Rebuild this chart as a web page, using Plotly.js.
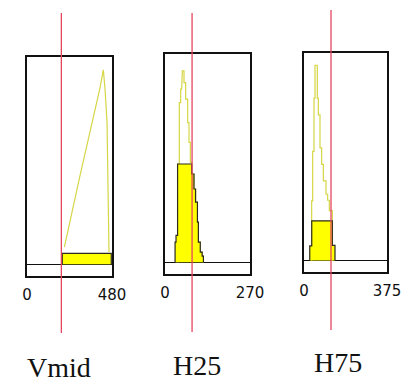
<!DOCTYPE html>
<html><head><meta charset="utf-8">
<script src="https://cdn.plot.ly/plotly-3.0.1.min.js"></script>
<style>html,body{margin:0;padding:0;background:#fff}#plot{width:404px;height:383px}</style>
</head><body><div id="plot"></div>
<script>
// ---- data ----
var categories = ['Vmid', 'H25', 'H75'];
var axisMax = [480, 270, 375];
var tickLabels = [['0', '480'], ['0', '270'], ['0', '375']];
var cutoffs = [194, 86, 122];

// filled histograms: bin edges and heights (percent of panel height)
var vmidFillEdges = [199, 476];
var vmidFillHeights = [5.3];
var h25FillEdges = [32, 35, 40, 85, 92, 97, 103, 106, 112, 118, 122];
var h25FillHeights = [9.7, 12.9, 47.2, 42.4, 35.2, 28.9, 19.3, 9.7, 4.9, 3.0];
var h75FillEdges = [26, 35, 128, 140];
var h75FillHeights = [7.0, 19.1, 7.2];

// outline histograms
var vmidLineX = [211, 252, 299, 346, 384, 412, 431, 441, 452, 459, 463];
var vmidLineY = [8.3, 25.0, 42.6, 60.1, 73.7, 84.8, 93.6, 84.0, 68.1, 36.2, 5.9];
var h25LineEdges = [40, 45.5, 49.8, 52.9, 55.1, 60.4, 65.6, 72, 76.2, 80.5, 84.7, 92.1, 97.4, 102.7, 105.9, 112.2, 118.6, 121.8];
var h25LineHeights = [47.2, 76.7, 83.1, 87.9, 91.9, 86.3, 78.3, 67.1, 57.6, 48.0, 42.4, 35.2, 28.9, 19.3, 9.7, 4.9, 3.0];
var h75LineEdges = [34.6, 39.2, 45.2, 49.7, 60.2, 64.8, 72.3, 79.8, 87.4, 99.4, 106.9, 114.5, 128];
var h75LineHeights = [28.7, 52.6, 78.2, 94.1, 78.2, 70.2, 54.3, 46.3, 38.3, 31.9, 29.0, 24.0];

function steps(edges, heights) {
  var x = [edges[0]], y = [0];
  for (var i = 0; i < heights.length; i++) {
    x.push(edges[i], edges[i + 1]);
    y.push(heights[i], heights[i]);
  }
  x.push(edges[edges.length - 1]); y.push(0);
  return {x: x, y: y};
}

var lineColor = 'rgb(214,214,70)';
var fillColor = '#ffff00';
var edgeColor = '#2a2a20';

var fills = [steps(vmidFillEdges, vmidFillHeights), steps(h25FillEdges, h25FillHeights), steps(h75FillEdges, h75FillHeights)];
var lines = [{x: vmidLineX, y: vmidLineY}, steps(h25LineEdges, h25LineHeights), steps(h75LineEdges, h75LineHeights)];

var traces = [];
for (var p = 0; p < 3; p++) {
  var xa = p === 0 ? 'x' : 'x' + (p + 1);
  var ya = p === 0 ? 'y' : 'y' + (p + 1);
  traces.push({type: 'scatter', mode: 'lines', x: lines[p].x, y: lines[p].y, xaxis: xa, yaxis: ya,
    line: {color: lineColor, width: 1.2}, hoverinfo: 'skip', showlegend: false});
  traces.push({type: 'scatter', mode: 'lines', x: fills[p].x, y: fills[p].y, xaxis: xa, yaxis: ya,
    fill: 'toself', fillcolor: fillColor, line: {color: edgeColor, width: 1.2}, hoverinfo: 'skip', showlegend: false});
}

var xDomains = [[27/404, 112/404], [165/404, 250/404], [304/404, 387/404]];
var yDomains = [[1 - 276/383, 1 - 56.5/383], [1 - 274/383, 1 - 54/383], [1 - 272/383, 1 - 53/383]];
var redSpan = [[1 - 333/383, 1 - 13/383], [1 - 332/383, 1 - 13/383], [1 - 330/383, 1 - 10/383]];
var labelPos = [[59/404, 1 - 367/383], [197/404, 1 - 365/383], [338/404, 1 - 362/383]];

var layout = {
  width: 404, height: 383,
  margin: {l: 0, r: 0, t: 0, b: 0},
  paper_bgcolor: '#fff', plot_bgcolor: '#fff',
  showlegend: false,
  shapes: [], annotations: []
};
for (var p = 0; p < 3; p++) {
  var sx = p === 0 ? '' : String(p + 1);
  layout['xaxis' + sx] = {
    domain: xDomains[p], range: [0, axisMax[p]], anchor: 'y' + sx,
    showgrid: false, zeroline: false, showline: true, mirror: true, linecolor: '#111', linewidth: 1.8,
    ticks: '', tickvals: [0, axisMax[p]], ticktext: tickLabels[p],
    tickfont: {family: 'DejaVu Sans', size: 15, color: '#111'}, ticklabelstandoff: 4,
    fixedrange: true
  };
  layout['yaxis' + sx] = {
    domain: yDomains[p], range: [-5.6, 100], anchor: 'x' + sx,
    showgrid: false, zeroline: true, zerolinecolor: '#111', zerolinewidth: 1.4,
    showline: true, mirror: true, linecolor: '#111', linewidth: 1.8,
    showticklabels: false, ticks: '', fixedrange: true
  };
  layout.shapes.push({type: 'line', xref: 'x' + sx, yref: 'paper',
    x0: cutoffs[p], x1: cutoffs[p], y0: redSpan[p][0], y1: redSpan[p][1],
    line: {color: 'rgb(228,70,95)', width: 1.3}});
  layout.annotations.push({xref: 'paper', yref: 'paper', x: labelPos[p][0], y: labelPos[p][1],
    xanchor: 'center', yanchor: 'middle', showarrow: false, text: categories[p],
    font: {family: 'Liberation Serif', size: 28, color: '#111'}});
}

Plotly.newPlot('plot', traces, layout, {staticPlot: true, displayModeBar: false});
</script>
</body></html>
